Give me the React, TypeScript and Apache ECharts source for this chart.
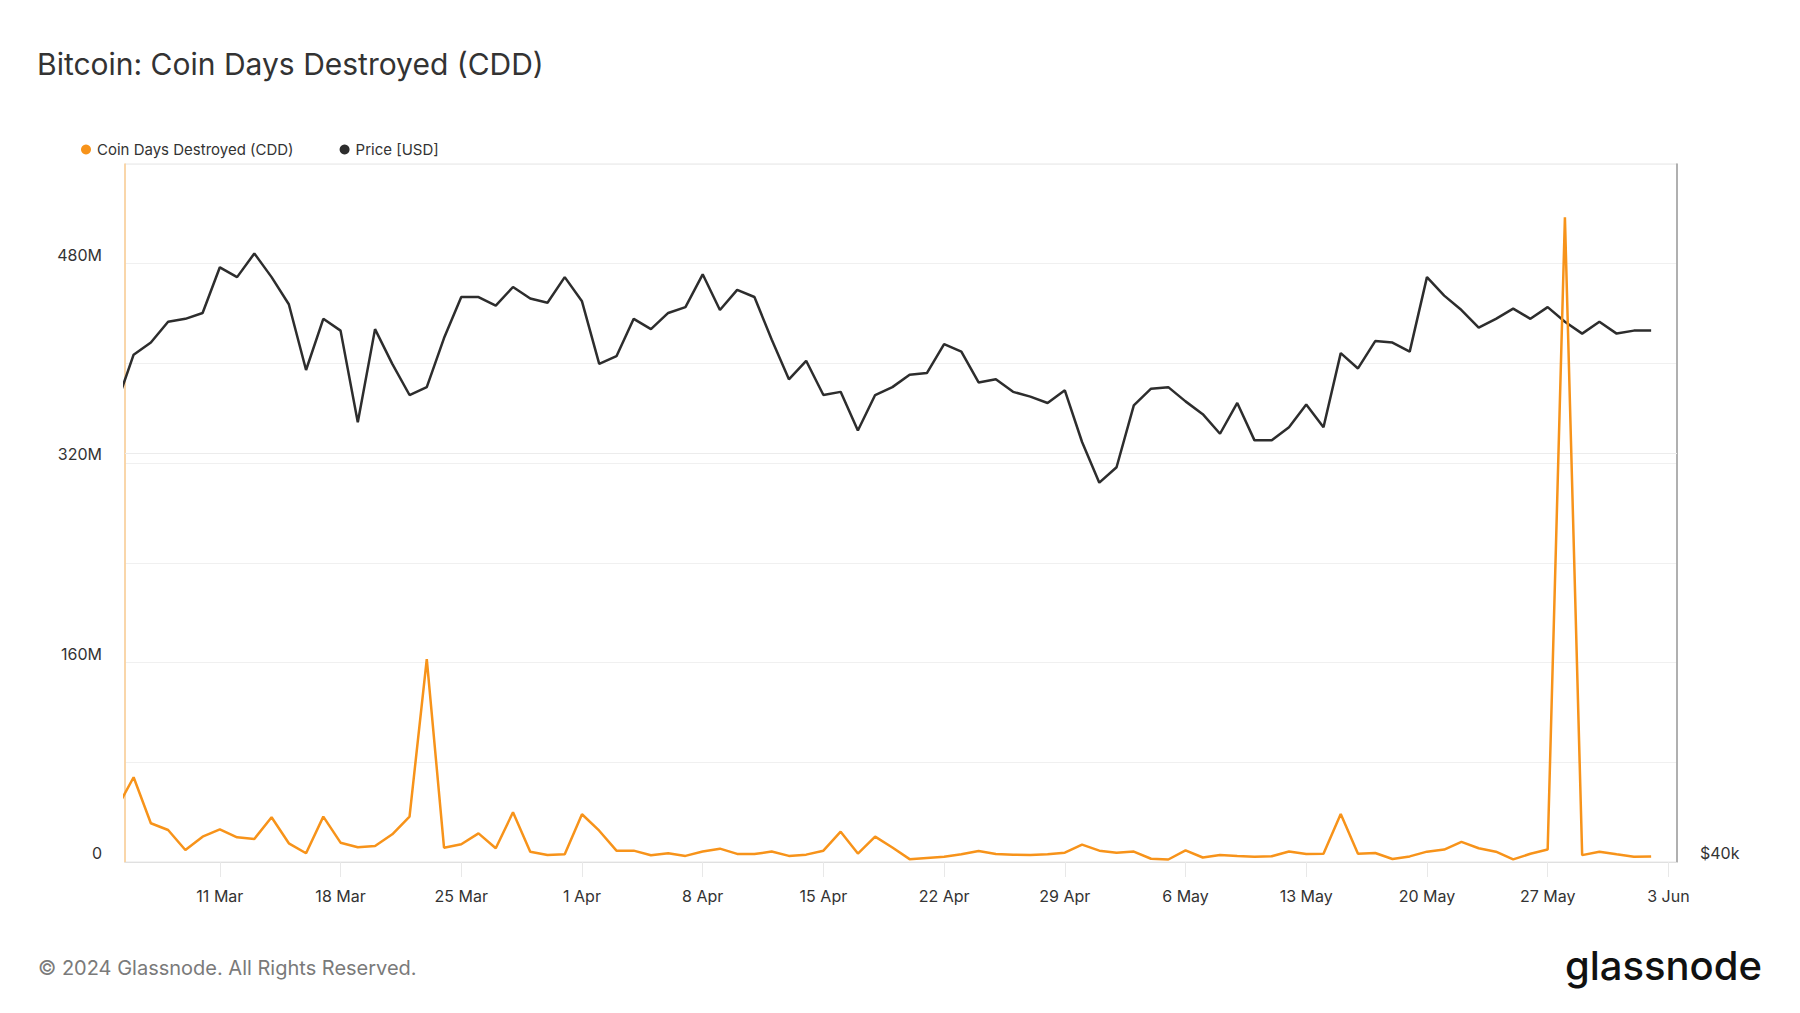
import React, { useEffect, useRef } from "react";
import * as echarts from "echarts";

// Daily points, index 0 = 5 Mar 2024 ... index 89 = 2 Jun 2024
const startDate = "2024-03-05";

// Coin Days Destroyed, in millions
const cddM = [
  42.3, 68.0, 31.1, 25.7, 9.6, 20.3, 26.2, 19.8, 18.5, 35.9,
  15.0, 7.0, 36.4, 15.5, 11.8, 12.9, 22.2, 36.4, 162.8, 11.5,
  14.2, 23.0, 11.0, 39.9, 8.3, 5.6, 6.2, 38.3, 25.1, 9.1,
  9.1, 5.4, 7.0, 4.9, 8.4, 10.7, 6.5, 6.4, 8.4, 4.9,
  5.9, 9.1, 24.3, 6.8, 20.4, 11.6, 2.3, 3.3, 4.3, 6.2,
  8.8, 6.5, 5.9, 5.6, 6.2, 7.5, 13.9, 9.1, 7.5, 8.4,
  2.6, 2.0, 9.4, 3.6, 5.6, 4.9, 4.3, 4.6, 8.4, 6.5,
  6.7, 38.5, 6.6, 7.2, 2.4, 4.5, 8.3, 10.0, 16.1, 11.0,
  8.3, 2.1, 6.6, 10.0, 517.3, 5.5, 8.3, 6.2, 4.2, 4.5,
];

// Price in thousand USD
const priceK = [
  63.0, 66.2, 67.0, 68.4, 68.6, 69.0, 72.2, 71.5, 73.2, 71.5,
  69.6, 65.2, 68.6, 67.8, 61.9, 67.9, 65.6, 63.6, 64.1, 67.3,
  70.1, 70.1, 69.5, 70.8, 70.0, 69.7, 71.5, 69.8, 65.6, 66.1,
  68.6, 67.9, 69.0, 69.4, 71.7, 69.2, 70.6, 70.1, 67.2, 64.6,
  65.8, 63.6, 63.8, 61.4, 63.6, 64.1, 64.9, 65.0, 66.9, 66.4,
  64.4, 64.6, 63.8, 63.5, 63.1, 63.9, 60.7, 58.3, 59.2, 62.95,
  64.0, 64.1, 63.2, 62.4, 61.2, 63.1, 60.8, 60.8, 61.6, 63.0,
  61.6, 66.3, 65.3, 67.1, 67.0, 66.4, 71.5, 70.2, 69.2, 68.0,
  68.6, 69.3, 68.6, 69.4, 68.4, 67.6, 68.4, 67.6, 67.8, 67.8,
];

// X tick positions (days after 5 Mar) and their labels
const tickDays = [6, 13, 20, 27, 34, 41, 48, 55, 62, 69, 76, 83, 90];
const tickLabels = [
  "11 Mar", "18 Mar", "25 Mar", "1 Apr", "8 Apr", "15 Apr", "22 Apr",
  "29 Apr", "6 May", "13 May", "20 May", "27 May", "3 Jun",
];

// Left axis: gridlines every 80M, labels every 160M
const cddAxisMax = 560e6;
const cddAxisStep = 80e6;
const cddLabelStep = 160e6;

// Right axis (log)
const priceAxisMin = 40000;
const priceAxisMax = 80000;
const priceLabels = [40000];
const priceGridLines = [60000];

const FONT = 'Inter, "Noto Sans", "DejaVu Sans", sans-serif';
const ORANGE = "#f7931a";
const DARK = "#2d2d2d";

export default function App() {
  const ref = useRef<HTMLDivElement>(null);

  useEffect(() => {
    document.body.style.margin = "0";
    if (!ref.current) return;
    const chart = echarts.init(ref.current, undefined, { renderer: "svg" });

    const cddData = cddM.map((v, i) => [i, v * 1e6]);
    const priceData = priceK.map((v, i) => [i, v * 1000]);

    const option: any = {
      animation: false,
      backgroundColor: "#ffffff",
      textStyle: { fontFamily: FONT },
      title: {
        text: "Bitcoin: Coin Days Destroyed (CDD)",
        left: 37,
        top: 49,
        padding: 0,
        textStyle: { fontFamily: FONT, fontSize: 30, fontWeight: 400, color: "#333333" },
      },
      legend: {
        left: 81,
        top: 142,
        padding: 0,
        icon: "circle",
        itemWidth: 10,
        itemHeight: 10,
        itemGap: 46,
        textStyle: { fontFamily: FONT, fontSize: 15, color: "#333333", padding: [0, 0, 0, 1] },
        data: ["Coin Days Destroyed (CDD)", "Price [USD]"],
      },
      grid: {
        left: 125,
        right: 123,
        top: 164,
        bottom: 151,
        show: true,
        borderColor: "#e6e6e6",
        borderWidth: 1,
        backgroundColor: "transparent",
      },
      xAxis: {
        type: "value",
        min: 0.5,
        max: 90.5,
        axisLine: { show: true, lineStyle: { color: "#e0e0e0", width: 1 } },
        axisTick: {
          show: true,
          customValues: tickDays,
          length: 15,
          lineStyle: { color: "#e8e8e8", width: 1 },
        },
        axisLabel: {
          customValues: tickDays,
          margin: 26,
          fontSize: 16,
          color: "#333333",
          fontFamily: FONT,
          formatter: (v: number) => {
            const k = tickDays.indexOf(Math.round(v));
            return k >= 0 ? tickLabels[k] : "";
          },
        },
        splitLine: { show: false },
      },
      yAxis: [
        {
          type: "value",
          position: "left",
          min: 0,
          max: cddAxisMax,
          interval: cddAxisStep,
          axisLine: { show: true, lineStyle: { color: "#fbcd92", width: 1.5 } },
          axisTick: { show: false },
          axisLabel: {
            margin: 23,
            fontSize: 16,
            color: "#333333",
            fontFamily: FONT,
            verticalAlign: "bottom",
            lineHeight: 18,
            formatter: (v: number) => {
              if (Math.round(v) % cddLabelStep !== 0) return "";
              return v === 0 ? "0" : `${Math.round(v / 1e6)}M`;
            },
          },
          splitLine: { show: true, lineStyle: { color: "#f0f0f0", width: 1 } },
        },
        {
          type: "log",
          logBase: 2,
          position: "right",
          min: priceAxisMin,
          max: priceAxisMax,
          axisLine: { show: true, lineStyle: { color: "#9a9a9a", width: 1.5 } },
          axisTick: { show: false },
          axisLabel: {
            margin: 23,
            fontSize: 16,
            color: "#333333",
            fontFamily: FONT,
            verticalAlign: "bottom",
            lineHeight: 18,
            formatter: (v: number) => {
              const hit = priceLabels.find((p) => Math.abs(p - v) < 1);
              return hit !== undefined ? `$${Math.round(hit / 1000)}k` : "";
            },
          },
          splitLine: { show: false },
        },
      ],
      series: [
        {
          name: "Price [USD]",
          type: "line",
          xAxisIndex: 0,
          yAxisIndex: 1,
          data: priceData,
          symbol: "none",
          color: DARK,
          itemStyle: { color: DARK },
          lineStyle: { color: DARK, width: 2.5 },
          z: 2,
          markLine: {
            silent: true,
            symbol: "none",
            label: { show: false },
            lineStyle: { color: "#ececec", type: "solid", width: 1 },
            data: priceGridLines.map((p) => ({ yAxis: p })),
            z: 1,
          },
        },
        {
          name: "Coin Days Destroyed (CDD)",
          type: "line",
          xAxisIndex: 0,
          yAxisIndex: 0,
          data: cddData,
          symbol: "none",
          color: ORANGE,
          itemStyle: { color: ORANGE },
          lineStyle: { color: ORANGE, width: 2.5 },
          z: 3,
        },
      ],
      graphic: [
        {
          type: "text",
          left: 38,
          top: 958,
          style: {
            text: "© 2024 Glassnode. All Rights Reserved.",
            fontSize: 20,
            fontFamily: FONT,
            fill: "#7a7a7a",
          },
        },
        {
          type: "text",
          right: 38,
          top: 945,
          style: {
            text: "glassnode",
            fontSize: 40,
            fontWeight: 500,
            fontFamily: FONT,
            fill: "#111111",
          },
        },
      ],
    };

    chart.setOption(option);
    return () => chart.dispose();
  }, []);

  return (
    <div
      ref={ref}
      data-start={startDate}
      style={{ position: "fixed", left: 0, top: 0, width: 1800, height: 1013 }}
    />
  );
}
